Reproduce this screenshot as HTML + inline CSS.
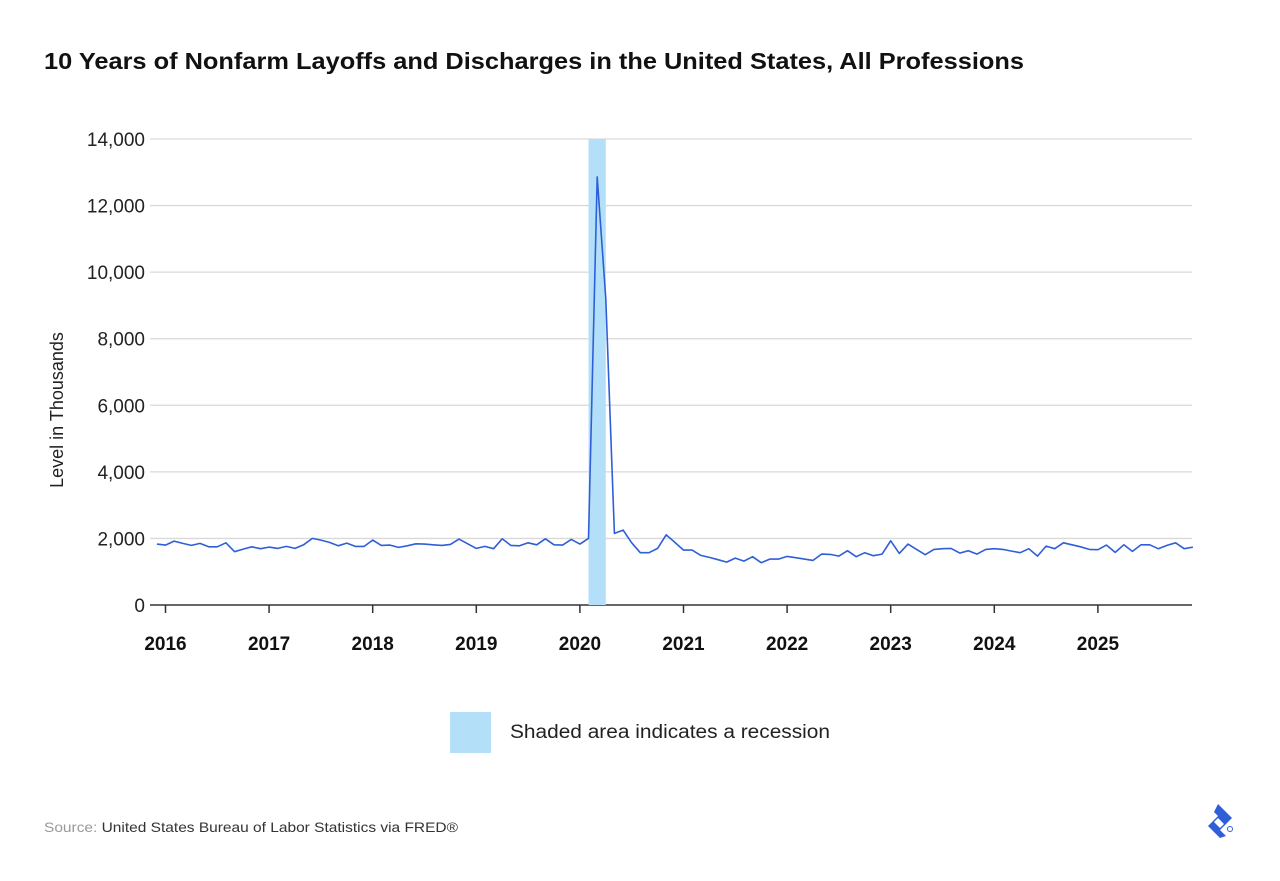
<!DOCTYPE html>
<html><head><meta charset="utf-8"><style>
body{margin:0;background:#fff;font-family:"Liberation Sans",sans-serif;}
svg{display:block}
</style></head><body>
<svg id="chart" width="1280" height="881" viewBox="0 0 1280 881">
<text x="44" y="69" font-size="23" font-weight="bold" fill="#111" textLength="980" lengthAdjust="spacingAndGlyphs">10 Years of Nonfarm Layoffs and Discharges in the United States, All Professions</text>
<g id="grid"></g><g id="rec"></g><g id="yt"></g><g id="xt"></g><g id="ln"></g>
<text transform="translate(63,410) rotate(-90)" text-anchor="middle" font-size="18" fill="#222">Level in Thousands</text>
<rect x="450" y="712" width="41" height="41" fill="#b3e0f8"/>
<text x="510" y="738" font-size="19" fill="#222" textLength="320" lengthAdjust="spacingAndGlyphs">Shaded area indicates a recession</text>
<text x="44" y="832" font-size="14" fill="#999" textLength="414" lengthAdjust="spacingAndGlyphs">Source: <tspan fill="#333">United States Bureau of Labor Statistics via FRED®</tspan></text>
<g transform="translate(1208,804)">
<path d="M10 0 L24 14 L12 26 L18 32 L12 34 L0 22 L10 12 L6 8 Z" fill="#2f5fd8"/><path d="M10 14 L16 20 L12 24 L6 18 Z" fill="#fff"/>
<circle cx="22" cy="25" r="2.5" fill="none" stroke="#2f5fd8" stroke-width="1"/></g>
</svg>
<script>
const yTicks=[0,2000,4000,6000,8000,10000,12000,14000];
const xYears=[2016,2017,2018,2019,2020,2021,2022,2023,2024,2025];
const startYear=2015, startMonth=11; // Dec 2015 (0-based month)
const values=[1830,1800,1920,1850,1790,1850,1750,1750,1870,1600,1680,1750,
1690,1740,1700,1760,1700,1810,2000,1950,1880,1780,1860,1760,
1760,1950,1790,1800,1730,1780,1840,1830,1810,1790,1820,1980,
1840,1700,1760,1690,1990,1790,1780,1870,1810,1990,1810,1800,
1970,1830,2000,12860,9200,2150,2250,1870,1570,1570,1700,2110,1880,
1650,1650,1490,1430,1360,1290,1410,1320,1450,1270,1380,1380,
1460,1420,1380,1340,1530,1520,1470,1630,1450,1570,1480,1530,
1930,1550,1830,1670,1510,1670,1690,1700,1560,1630,1530,1670,
1690,1670,1620,1570,1690,1470,1770,1690,1870,1810,1750,1670,
1660,1800,1580,1810,1610,1810,1810,1690,1790,1870,1690,1740];
const recession=[2020+1/12,2020+3/12];
const NS="http://www.w3.org/2000/svg";
const x=t=>165.5+(t-2016)*103.6;
const y=v=>605-v*(466/14000);
function mk(tag,attrs,parent){const e=document.createElementNS(NS,tag);for(const k in attrs)e.setAttribute(k,attrs[k]);document.getElementById(parent).appendChild(e);return e;}
const r=mk('rect',{x:x(recession[0]),y:y(14000),width:x(recession[1])-x(recession[0]),height:y(0)-y(14000),fill:'#b3e0f8'},'rec');


yTicks.forEach(v=>{
 if(v>0){const g=mk('line',{x1:150,x2:1192,y1:y(v),y2:y(v),stroke:'#d9d9d9','stroke-width':1.3},'grid');
 
 }
 const t=mk('text',{x:145,y:y(v)+7,'text-anchor':'end','font-size':19,fill:'#222'},'yt');t.textContent=v.toLocaleString('en-US');
 
 
});
const ax=mk('line',{x1:150,x2:1192,y1:605,y2:605,stroke:'#333','stroke-width':1.5},'grid');


xYears.forEach(yr=>{
 const tk=mk('line',{x1:x(yr),x2:x(yr),y1:605,y2:613,stroke:'#333','stroke-width':1.5},'xt');
 
 
 const t=mk('text',{x:x(yr),y:650,'text-anchor':'middle','font-size':19,'font-weight':'bold',fill:'#111'},'xt');t.textContent=yr;
 
 
});
const pts=values.map((v,i)=>x(startYear+(startMonth+i)/12).toFixed(1)+','+y(v).toFixed(1)).join(' ');
const pl=mk('polyline',{points:pts,fill:'none',stroke:'#2f5fd8','stroke-width':1.6,'stroke-linejoin':'round'},'ln');


</script>
</body></html>
